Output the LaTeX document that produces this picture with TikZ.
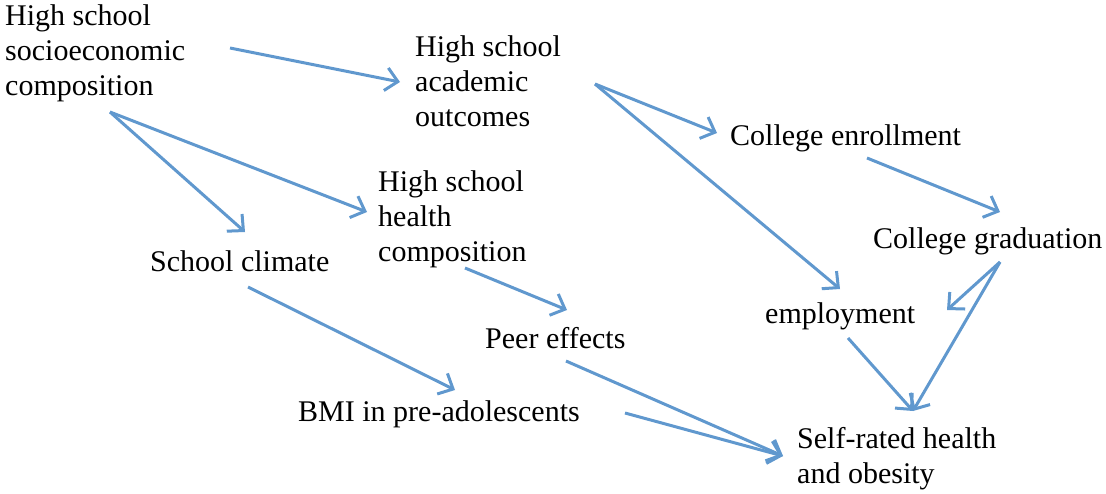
\documentclass[tikz,border=0pt]{standalone}
\usepackage{fontspec}
\setmainfont{Liberation Serif}
\usetikzlibrary{arrows.meta}
\definecolor{arrowblue}{RGB}{96,152,206}
\begin{document}
\begin{tikzpicture}[x=1pt,y=-1pt,
  lbl/.style={anchor=north west,inner sep=0pt,align=left,font=\fontsize{30}{35}\selectfont},
  arr/.style={draw=arrowblue,line width=3pt,-{Straight Barb[length=12pt,width=23pt]}}]
\useasboundingbox (0,0) rectangle (1106,493);
\node[lbl] (socio) at (5,4.5) {High school\\socioeconomic\\composition};
\node[lbl] (acad) at (415,35.5) {High school\\academic\\outcomes};
\node[lbl] (enrol) at (730,124.5) {College enrollment};
\node[lbl] (health) at (378,170.5) {High school\\health\\composition};
\node[lbl] (climate) at (150,250.5) {School climate};
\node[lbl] (grad) at (873,227.5) {College graduation};
\node[lbl] (employ) at (765,302.5) {employment};
\node[lbl] (peer) at (485,327.5) {Peer effects};
\node[lbl] (bmi) at (298,400.5) {BMI in pre-adolescents};
\node[lbl] (self) at (797,427.5) {Self-rated health\\and obesity};
\draw[arr] ([shift={(225,43.5)}]socio.north west) -- ([shift={(-15,46.5)}]acad.north west);
\draw[arr] ([shift={(105,107.5)}]socio.north west) -- ([shift={(95,-18.5)}]climate.north west);
\draw[arr] ([shift={(105,107.5)}]socio.north west) -- ([shift={(-11,41.5)}]health.north west);
\draw[arr] ([shift={(180,48.5)}]acad.north west) -- ([shift={(-13,8.5)}]enrol.north west);
\draw[arr] ([shift={(180,48.5)}]acad.north west) -- ([shift={(75,-13.5)}]employ.north west);
\draw[arr] ([shift={(137,33.5)}]enrol.north west) -- ([shift={(127,-15.5)}]grad.north west);
\draw[arr] ([shift={(127,34.5)}]grad.north west) -- ([shift={(182,7.5)}]employ.north west);
\draw[arr] ([shift={(127,34.5)}]grad.north west) -- ([shift={(116,-16.5)}]self.north west);
\draw[arr] ([shift={(83,35.5)}]employ.north west) -- ([shift={(116,-16.5)}]self.north west);
\draw[arr] ([shift={(98,36.5)}]climate.north west) -- ([shift={(157,-10.5)}]bmi.north west);
\draw[arr] ([shift={(87,97.5)}]health.north west) -- ([shift={(82,-17.5)}]peer.north west);
\draw[arr] ([shift={(81,33.5)}]peer.north west) -- ([shift={(-14,28.5)}]self.north west);
\draw[arr] ([shift={(327,12.5)}]bmi.north west) -- ([shift={(-14,28.5)}]self.north west);
\end{tikzpicture}
\end{document}
